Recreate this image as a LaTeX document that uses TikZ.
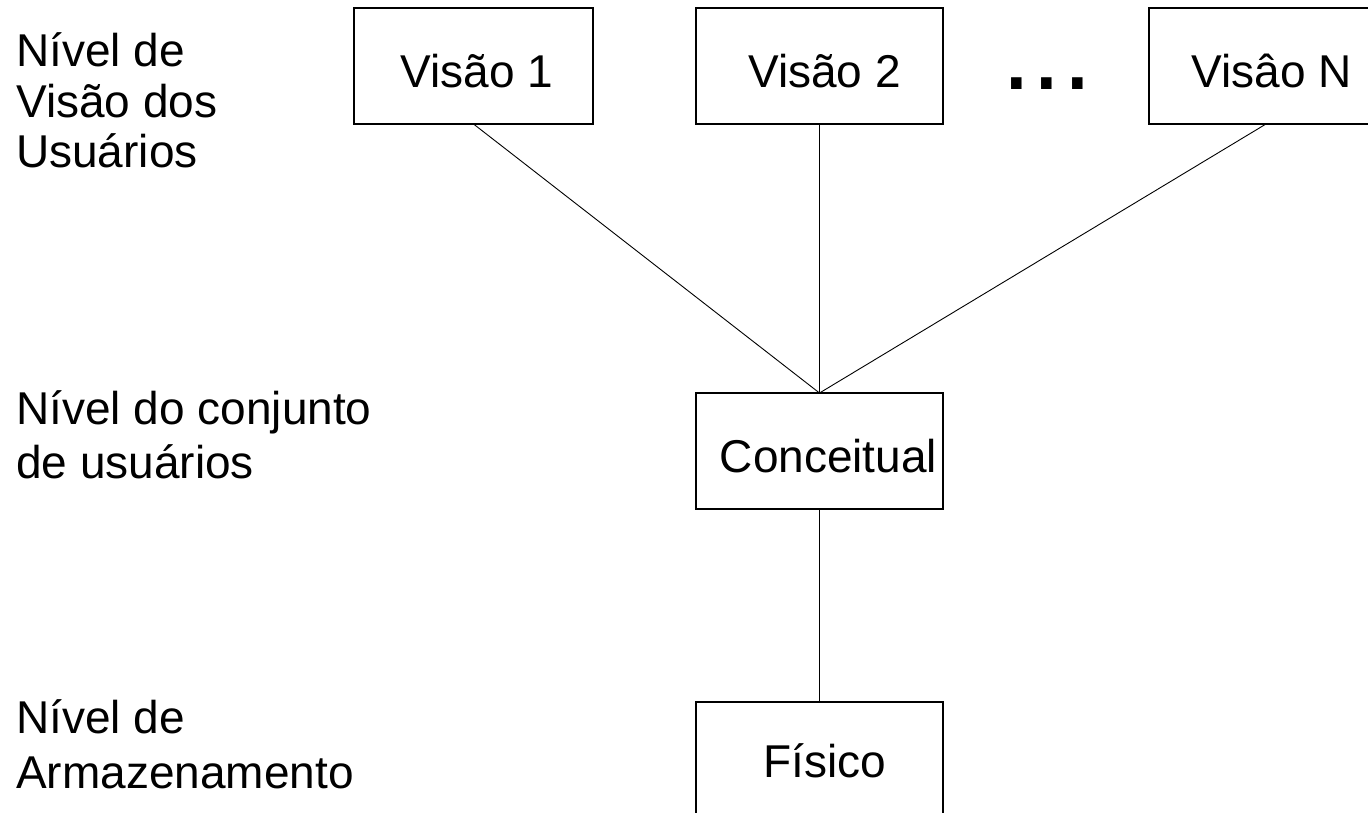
\documentclass[tikz,border=0pt]{standalone}
\usepackage{fontspec}
\setmainfont{Liberation Sans}
\begin{document}
\begin{tikzpicture}[x=1pt,y=-1pt,
  box/.style={draw=black, line width=1.3pt, inner sep=0pt, outer sep=0pt, minimum height=116pt},
  conn/.style={draw=black, line width=0.9pt},
  txt/.style={anchor=base west, inner sep=0pt, font=\fontsize{46}{52}\selectfont},
  ctxt/.style={anchor=base, inner sep=0pt, font=\fontsize{46}{52}\selectfont},
  dots/.style={anchor=base west, inner sep=0pt, font=\fontsize{110}{110}\selectfont}]
\useasboundingbox[fill=white] (0,0) rectangle (1368,813);
% boxes
\node[box, minimum width=239pt] (v1) at (473.5,66) {};
\node[box, minimum width=247pt] (v2) at (819.5,66) {};
\node[box, minimum width=234pt] (vn) at (1266,66) {};
\node[box, minimum width=247pt] (conc) at (819.5,451) {};
\node[box, minimum width=247pt] (fis) at (819.5,760) {};
% box texts
\node[ctxt] (t1) at (477,88) {Visão 1};
\node[ctxt] (t2) at (824.5,88) {Visão 2};
\node[ctxt] (tn) at (1271.5,88) {Visâo N};
\node[dots] (dd) at (1001,90) {...};
\node[ctxt] (tc) at (828.5,472) {Conceitual};
\node[ctxt] (tf) at (824.5,777) {Físico};
% level labels
\node[txt] (la1) at (16,67) {Nível de};
\node[txt] (la2) at (16,118) {Visão dos};
\node[txt] (la3) at (16,168) {Usuários};
\node[txt] (lb1) at (16,424) {Nível do conjunto};
\node[txt] (lb2) at (16,478) {de usuários};
\node[txt] (lc1) at (16,733) {Nível de};
\node[txt] (lc2) at (16,788) {Armazenamento};
% connectors
\draw[conn] (v1.south) -- (conc.north);
\draw[conn] (v2.south) -- (conc.north);
\draw[conn] (vn.south) -- (conc.north);
\draw[conn] (conc.south) -- (fis.north);
\end{tikzpicture}
\end{document}
